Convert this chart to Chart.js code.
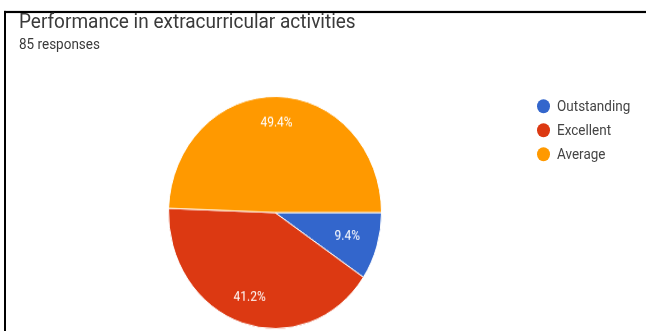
<!DOCTYPE html>
<html>
<head>
<meta charset="utf-8">
<script src="https://cdn.jsdelivr.net/npm/chart.js@4/dist/chart.umd.min.js"></script>
<style>
    html, body { margin: 0; padding: 0; background: #fff; }
    body { width: 646px; height: 331px; overflow: hidden; }
    #page {
        position: relative;
        width: 646px;
        height: 304px;
        transform: scaleY(1.09);
        transform-origin: 0 0;
        font-family: Roboto, "Noto Sans", sans-serif;
    }
    #frame-top { position: absolute; left: 4px; top: 10px; width: 642px; height: 2px; background: #000; }
    #frame-left { position: absolute; left: 4px; top: 10px; width: 2px; height: 300px; background: #000; }
    #title { position: absolute; left: 19px; top: 8px; font-size: 19px; color: #3a3a3a; white-space: nowrap; }
    #subtitle { position: absolute; left: 19px; top: 32px; font-size: 13.5px; color: #3a3a3a; white-space: nowrap; }
    #chart-box { position: absolute; left: 168px; top: 88px; width: 214px; height: 214px; }
    #legend { position: absolute; left: 537px; top: 88px; margin: 0; padding: 0; list-style: none; }
    #legend li { height: 22px; line-height: 19px; font-size: 13.5px; color: #444; white-space: nowrap; }
    #legend span.dot {
        display: inline-block; width: 13px; height: 13px; border-radius: 50%;
        vertical-align: -2px; margin-right: 7px;
    }
</style>
</head>
<body>
<div id="page">
    <div id="frame-top"></div>
    <div id="frame-left"></div>
    <div id="title">Performance in extracurricular activities</div>
    <div id="subtitle">85 responses</div>
    <div id="chart-box"><canvas id="pieChart"></canvas></div>
    <ul id="legend"></ul>
</div>
<script>
const categories = ['Outstanding', 'Excellent', 'Average'];
const responses = [8, 35, 42];
const sliceColors = ['#3366cc', '#dc3912', '#ff9900'];

const total = responses.reduce(function(a, b) { return a + b; }, 0);

// legend on the right, built from the same arrays
const legendEl = document.getElementById('legend');
categories.forEach(function(name, i) {
    const li = document.createElement('li');
    li.innerHTML = '<span class="dot" style="background:' + sliceColors[i] + '"></span>' + name;
    legendEl.appendChild(li);
});

// percentage text drawn inside each slice
const sliceLabels = {
    id: 'sliceLabels',
    afterDatasetsDraw(chart) {
        const ctx = chart.ctx;
        const meta = chart.getDatasetMeta(0);
        ctx.save();
        ctx.fillStyle = '#ffffff';
        ctx.font = '12px Roboto, sans-serif';
        ctx.textAlign = 'center';
        ctx.textBaseline = 'middle';
        meta.data.forEach(function(arc, i) {
            const share = responses[i] / total;
            const p = arc.getProps(['x', 'y', 'startAngle', 'endAngle', 'outerRadius'], true);
            const mid = (p.startAngle + p.endAngle) / 2;
            const r = p.outerRadius * (share < 0.15 ? 0.71 : 0.77);
            ctx.fillText((share * 100).toFixed(1) + '%', p.x + Math.cos(mid) * r, p.y + Math.sin(mid) * r);
        });
        ctx.restore();
    }
};

const pieChart = new Chart(document.getElementById('pieChart'), {
    type: 'pie',
    data: {
        labels: categories,
        datasets: [{
            data: responses,
            backgroundColor: sliceColors,
            borderColor: '#ffffff',
            borderWidth: 1
        }]
    },
    options: {
        responsive: true,
        maintainAspectRatio: false,
        animation: false,
        rotation: 90,
        layout: { padding: 0 },
        plugins: {
            legend: { display: false },
            tooltip: { enabled: false }
        }
    },
    plugins: [sliceLabels]
});
</script>
</body>
</html>
